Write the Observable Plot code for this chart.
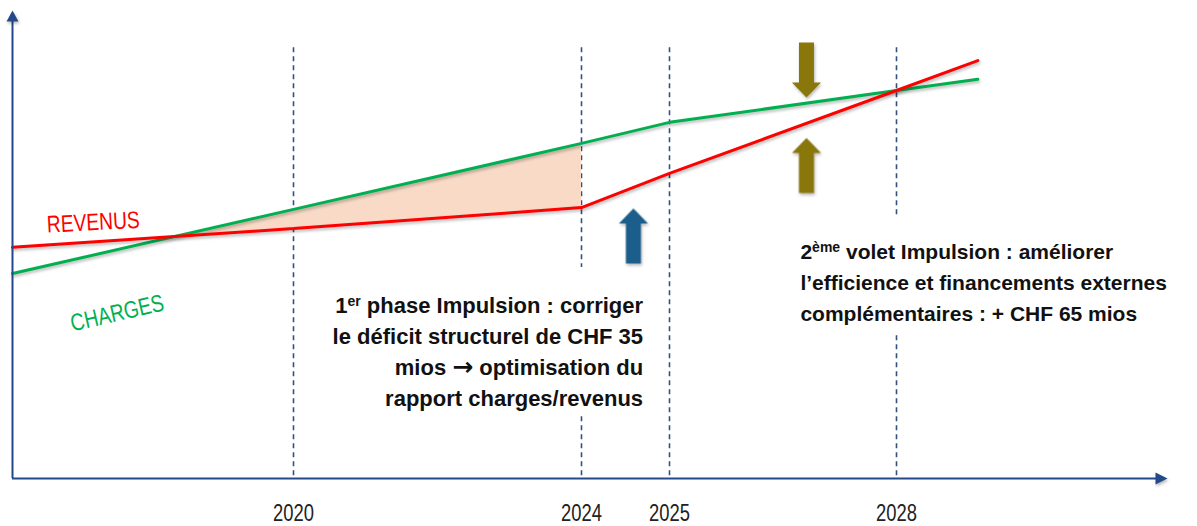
<!DOCTYPE html>
<html><head><meta charset="utf-8">
<script src="https://cdn.jsdelivr.net/npm/d3@7"></script>
<script src="https://cdn.jsdelivr.net/npm/@observablehq/plot@0.6"></script>
<style>
html,body{margin:0;padding:0;background:#fff;}
#chart svg g[aria-label="line"], #chart svg g[aria-label="dot"] {filter: drop-shadow(1px 2px 1.5px rgba(0,0,0,0.28));}
</style></head><body><div id="chart"></div>
<script>
// ---- data (schematic units) ----
const years = [2016, 2020, 2024, 2025, 2028, 2029.2];
const revenus = [49.4, 53.4, 57.9, 65.2, 82.9, 89.3];
const charges = [43.8, 57.5, 71.6, 76.1, 82.9, 85.3];
const deficitYears = [2018.3, 2020, 2024];
const deficitRevenus = [51.7, 53.4, 57.9];
const deficitCharges = [51.7, 57.5, 71.6];
const milestoneYears = [2020, 2024, 2025, 2028];
const tickLabels = ["2020", "2024", "2025", "2028"];
const arrowYears = [2024.59, 2026.81, 2026.81];
const arrowValues = [51.8, 87.3, 66.9];
const arrowDirs = ["up", "down", "up"];
const arrowColors = ["#1b5e8c", "#8a770c", "#8a770c"];
const seriesLabels = ["REVENUS", "CHARGES"];
const seriesLabelYears = [2017.15, 2017.49];
const seriesLabelValues = [54.7, 35.3];
const seriesLabelAngles = [-3, -13];
const seriesColors = ["#ff0000", "#00b050"];
const note1 = "1er phase Impulsion : corriger\nle déficit structurel de CHF 35\nmios → optimisation du\nrapport charges/revenus";
const note2 = "2ème volet Impulsion : améliorer\nl’efficience et financements externes\ncomplémentaires : + CHF 65 mios";
const noteBoxes = [
  {x1: 2020.1, x2: 2024.8, y1: 13.5, y2: 45.1},
  {x1: 2026.6, x2: 2031.9, y1: 31.0, y2: 56.0}
];

// ---- build tables ----
const revTable = years.map((x, i) => ({x, y: revenus[i]}));
const chgTable = years.map((x, i) => ({x, y: charges[i]}));
const defTable = deficitYears.map((x, i) => ({x, y1: deficitRevenus[i], y2: deficitCharges[i]}));
const arrows = arrowYears.map((x, i) => ({x, y: arrowValues[i], dir: arrowDirs[i], color: arrowColors[i]}));
const labels = seriesLabels.map((t, i) => ({t, x: seriesLabelYears[i], y: seriesLabelValues[i], a: seriesLabelAngles[i], c: seriesColors[i]}));

function poly(points) {
  return {draw(ctx) {
    ctx.moveTo(points[0][0], points[0][1]);
    for (let k = 1; k < points.length; k++) ctx.lineTo(points[k][0], points[k][1]);
    ctx.closePath();
  }};
}
const blockUp = poly([[0,-27.5],[14.5,-12.5],[7.5,-12.5],[7.5,27.5],[-7.5,27.5],[-7.5,-12.5],[-14.5,-12.5]]);
const blockDown = poly([[0,27.5],[14.5,12.5],[7.5,12.5],[7.5,-27.5],[-7.5,-27.5],[-7.5,12.5],[-14.5,12.5]]);
const headUp = poly([[0,0],[6,11],[-6,11]]);
const headRight = poly([[0,0],[-12,-6],[-12,6]]);

const axisColor = "#24498a";
const sans = "'Liberation Sans', Arial, sans-serif";

const chart = Plot.plot({
  width: 1197,
  height: 526,
  marginTop: 10,
  marginBottom: 48,
  marginLeft: 12,
  marginRight: 30,
  x: {type: "linear", domain: [2016, 2020, 2024, 2025, 2028, 2032], range: [12, 293, 581, 669, 896, 1167], axis: null},
  y: {type: "linear", domain: [0, 100], axis: null},
  style: {background: "#fff", overflow: "visible"},
  marks: [
    Plot.ruleX(milestoneYears, {x: d => d, y1: 0.6, y2: 92.3, stroke: "#34507f", strokeWidth: 1.6, strokeDasharray: "5,4"}),
    Plot.rect(noteBoxes, {x1: "x1", x2: "x2", y1: "y1", y2: "y2", fill: "white"}),
    Plot.areaY(defTable, {x: "x", y1: "y1", y2: "y2", fill: "#f8dac7"}),
    Plot.line(chgTable, {x: "x", y: "y", stroke: seriesColors[1], strokeWidth: 3, strokeLinejoin: "miter"}),
    Plot.line(revTable, {x: "x", y: "y", stroke: seriesColors[0], strokeWidth: 3, strokeLinejoin: "miter"}),
    Plot.ruleY([0], {x1: 2016, x2: 2031.9, stroke: axisColor, strokeWidth: 2}),
    Plot.ruleX([2016], {y1: 0, y2: 99, stroke: axisColor, strokeWidth: 2}),
    Plot.dot([{x: 2016, y: 100}], {x: "x", y: "y", r: 6, symbol: headUp, fill: axisColor, stroke: "none"}),
    Plot.dot([{x: 2032, y: 0}], {x: "x", y: "y", r: 6, symbol: headRight, fill: axisColor, stroke: "none"}),
    Plot.dot(arrows.filter(d => d.dir === "up"), {x: "x", y: "y", r: 10, symbol: blockUp, fill: d => d.color, stroke: "none"}),
    Plot.dot(arrows.filter(d => d.dir === "down"), {x: "x", y: "y", r: 10, symbol: blockDown, fill: d => d.color, stroke: "none"}),
    Plot.text(milestoneYears, {x: d => d, y: 0, text: (d, i) => tickLabels[i], dy: 35, fontSize: 23, fontFamily: sans, fill: "#222"}),
    Plot.text(labels.slice(0,1), {x: "x", y: "y", text: "t", rotate: seriesLabelAngles[0], fill: seriesColors[0], fontSize: 24, fontFamily: sans}),
    Plot.text(labels.slice(1,2), {x: "x", y: "y", text: "t", rotate: seriesLabelAngles[1], fill: seriesColors[1], fontSize: 24, fontFamily: sans}),
    Plot.text([note1], {x: 2024.7, y: 40.0, text: d => d, textAnchor: "end", lineAnchor: "top", lineHeight: 1.41, fontSize: 22, fontWeight: "bold", fontFamily: sans, fill: "#111"}),
    Plot.text([note2], {x: 2026.73, y: 51.7, text: d => d, textAnchor: "start", lineAnchor: "top", lineHeight: 1.48, fontSize: 21, fontWeight: "bold", fontFamily: sans, fill: "#111"})
  ]
});

// superscripts and arrow glyph
const svgns = "http://www.w3.org/2000/svg";
function addSup(root, prefix, sup) {
  root.querySelectorAll("tspan, text").forEach(el => {
    if (el.children.length === 0 && el.textContent.startsWith(prefix + sup + " ")) {
      const rest = el.textContent.slice(prefix.length + sup.length);
      el.textContent = "";
      el.appendChild(document.createTextNode(prefix));
      const s = document.createElementNS(svgns, "tspan");
      s.setAttribute("dy", "-7");
      s.setAttribute("font-size", "14");
      s.textContent = sup;
      const r = document.createElementNS(svgns, "tspan");
      r.setAttribute("dy", "7");
      r.textContent = rest;
      el.appendChild(s);
      el.appendChild(r);
    }
  });
}
function styleArrow(root) {
  root.querySelectorAll("tspan, text").forEach(el => {
    if (el.children.length === 0 && el.textContent.includes("→")) {
      const [a, b] = el.textContent.split("→");
      el.textContent = "";
      el.appendChild(document.createTextNode(a));
      const s = document.createElementNS(svgns, "tspan");
      s.setAttribute("font-family", "'DejaVu Sans', sans-serif");
      s.setAttribute("font-size", "25");
      s.setAttribute("font-weight", "bold");
      s.textContent = "→";
      el.appendChild(s);
      el.appendChild(document.createTextNode(b));
    }
  });
}
addSup(chart, "1", "er");
addSup(chart, "2", "ème");
styleArrow(chart);
document.getElementById("chart").appendChild(chart);

// condensed look for tick labels and series labels (Arial Narrow style)
const condensed = new Set([...tickLabels, ...seriesLabels]);
chart.querySelectorAll("text").forEach(el => {
  if (condensed.has(el.textContent)) {
    const len = el.getComputedTextLength();
    el.setAttribute("textLength", (len * 0.8).toFixed(1));
    el.setAttribute("lengthAdjust", "spacingAndGlyphs");
  }
});
</script></body></html>
